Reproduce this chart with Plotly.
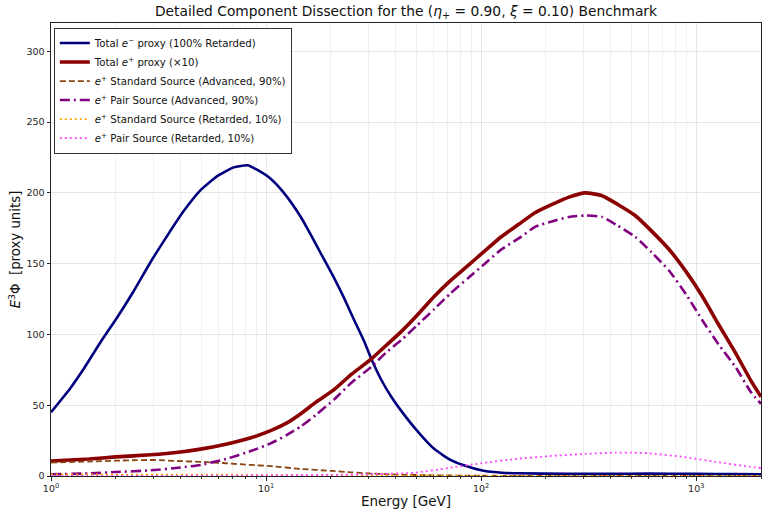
import plotly.graph_objects as go

# ---- data ----
e_minus_E = [1, 1.23, 1.41, 1.69, 2.03, 2.41, 2.9, 3.48, 4.13, 4.96, 5.95, 7.07, 8.2, 9.15,
             10.5, 12.1, 14.5, 16.2, 18, 20.7, 23, 25.7, 28.6, 30.8, 34.3, 38.2, 42.5, 51,
             60.6, 72.8, 87.3, 104, 125, 150, 250, 400, 600, 1000, 1500, 2000]
e_minus_val = [45, 62, 75, 94, 112, 130, 151, 170, 187, 202, 212, 218, 219.5, 216,
               210, 200, 183, 170, 157, 140, 126, 110, 95, 83, 68, 56, 46, 31,
               19, 11, 6.5, 3.5, 2.3, 1.9, 1.5, 1.5, 1.7, 1.5, 1.3, 1.2]

e_plus_E = [1, 1.5, 2, 2.9, 4, 4.96, 6.5, 8.5, 10.5, 12.5, 14.5, 17, 20.7, 25, 30.8, 36,
            42.5, 50, 60.6, 72, 87.3, 104, 124, 150, 178, 215, 256, 304, 365, 430, 520,
            620, 748, 900, 1067, 1270, 1522, 1800, 2000]
e_plus_total = [10.6, 12, 13.5, 15, 17, 19, 22.5, 27, 32, 37.5, 44, 52, 61, 72, 82.5, 92,
                102, 113, 127, 138, 149, 159, 169, 178, 186, 192, 197, 200, 198, 192, 184,
                173, 160, 144, 127, 107, 87, 67, 56]
pair_adv = [1.2, 1.8, 2.8, 4, 6, 7.8, 12, 17.6, 23, 29, 35, 43, 54, 66, 77, 87,
            96, 106, 118, 129, 140, 150, 160, 168, 176, 180, 183, 184, 183, 177, 169,
            158, 145, 128, 110, 93, 77, 59, 51]

std_E = [1, 1.5, 2, 2.5, 3, 4, 5, 6.5, 8.5, 10.5, 14.5, 20, 25, 30, 40, 60, 100, 200, 500, 2000]
std_adv = [9.5, 10.2, 10.8, 11.2, 11.3, 10.5, 10, 9, 7.8, 7, 5, 3.6, 2.6, 1.8, 1.0, 0.5,
           0.2, 0.05, 0.01, 0]
std_ret = [1.1, 1.15, 1.2, 1.2, 1.15, 1.1, 1.0, 0.9, 0.8, 0.7, 0.55, 0.4, 0.3, 0.2, 0.12,
           0.05, 0.02, 0, 0, 0]

pair_ret_E = [1, 3, 10, 20, 34, 49, 70, 100, 143, 206, 294, 419, 504, 604, 861, 1228, 1770, 2000]
pair_ret = [0.02, 0.1, 0.4, 0.8, 1.4, 2.3, 5.6, 9, 12, 14, 15.5, 16.5, 16.5, 16, 13.6, 10,
            6.6, 5.6]

x_tickvals = [1, 10, 100, 1000]
x_ticktext = ["10<sup>0</sup>", "10<sup>1</sup>", "10<sup>2</sup>", "10<sup>3</sup>"]
x_minor = [2, 3, 4, 5, 6, 7, 8, 9, 20, 30, 40, 50, 60, 70, 80, 90,
           200, 300, 400, 500, 600, 700, 800, 900, 2000]
y_tickvals = [0, 50, 100, 150, 200, 250, 300]

FONT = "DejaVu Sans"

fig = go.Figure()
fig.add_trace(go.Scatter(x=e_minus_E, y=e_minus_val, mode="lines",
                         name="Total <i>e</i><sup>−</sup> proxy (100% Retarded)",
                         line=dict(color="#00007f", width=2.6, shape="spline", smoothing=0.5)))
fig.add_trace(go.Scatter(x=e_plus_E, y=e_plus_total, mode="lines",
                         name="Total <i>e</i><sup>+</sup> proxy (×10)",
                         line=dict(color="#8b0000", width=3.6, shape="spline", smoothing=0.5)))
fig.add_trace(go.Scatter(x=std_E, y=std_adv, mode="lines",
                         name="<i>e</i><sup>+</sup> Standard Source (Advanced, 90%)",
                         line=dict(color="#8b4513", width=1.8, dash="6px,3px",
                                   shape="spline", smoothing=0.5)))
fig.add_trace(go.Scatter(x=e_plus_E, y=pair_adv, mode="lines",
                         name="<i>e</i><sup>+</sup> Pair Source (Advanced, 90%)",
                         line=dict(color="#800080", width=2.6, dash="10px,4px,2px,4px",
                                   shape="spline", smoothing=0.5)))
fig.add_trace(go.Scatter(x=std_E, y=std_ret, mode="lines",
                         name="<i>e</i><sup>+</sup> Standard Source (Retarded, 10%)",
                         line=dict(color="#ffa500", width=1.8, dash="2px,3px")))
fig.add_trace(go.Scatter(x=pair_ret_E, y=pair_ret, mode="lines",
                         name="<i>e</i><sup>+</sup> Pair Source (Retarded, 10%)",
                         line=dict(color="#ff44ff", width=1.8, dash="2px,3px",
                                   shape="spline", smoothing=0.5)))

fig.update_layout(
    width=767, height=517,
    margin=dict(l=51, r=6, t=23, b=41),
    paper_bgcolor="white", plot_bgcolor="white",
    font=dict(family=FONT, size=10, color="#222"),
    title=dict(text="Detailed Component Dissection for the (<i>η</i><sub>+</sub> = 0.90, <i>ξ</i> = 0.10) Benchmark",
               x=0.5, xref="paper", xanchor="center", y=1 - 11 / 517, yanchor="middle",
               font=dict(family=FONT, size=13.8, color="#111")),
    showlegend=True,
    legend=dict(x=0.004, y=0.99, xanchor="left", yanchor="top",
                bgcolor="white", bordercolor="#333", borderwidth=1,
                font=dict(family=FONT, size=10.2, color="#111"),
                tracegroupgap=0, itemwidth=30),
)
fig.update_xaxes(type="log", range=[0, 3.30103],
                 tickvals=x_tickvals, ticktext=x_ticktext,
                 ticks="outside", ticklen=3.5, tickcolor="#222",
                 showgrid=True, gridcolor="#e6e6e6", gridwidth=1,
                 minor=dict(tickvals=x_minor, ticks="outside", ticklen=2, tickcolor="#444",
                            showgrid=True, gridcolor="#f0f0f0", gridwidth=0.8),
                 showline=True, linecolor="#222", linewidth=1, mirror=True,
                 zeroline=False,
                 title=dict(text="Energy [GeV]", font=dict(family=FONT, size=13.5, color="#111"),
                            standoff=3),
                 tickfont=dict(family=FONT, size=9.5, color="#222"))
fig.update_yaxes(range=[0, 320], tickvals=y_tickvals,
                 ticks="outside", ticklen=3.5, tickcolor="#222",
                 showgrid=True, gridcolor="#e6e6e6", gridwidth=1,
                 showline=True, linecolor="#222", linewidth=1, mirror=True,
                 zeroline=False,
                 title=dict(text="<i>E</i><sup>3</sup>Φ  [proxy units]",
                            font=dict(family=FONT, size=13.3, color="#111"), standoff=2),
                 tickfont=dict(family=FONT, size=9.5, color="#222"))

fig.write_html("out.html")
